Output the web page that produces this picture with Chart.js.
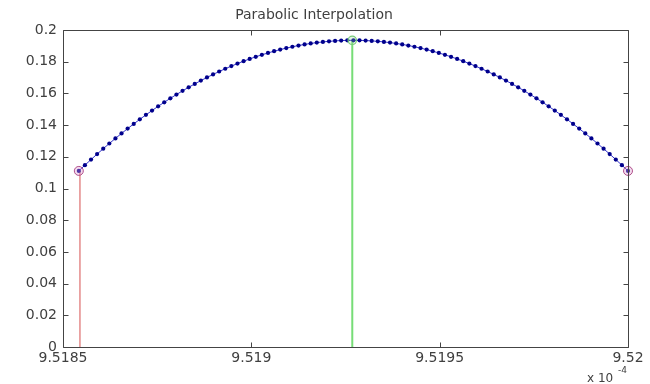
<!DOCTYPE html>
<html>
<head>
<meta charset="utf-8">
<script src="https://cdn.jsdelivr.net/npm/chart.js@4/dist/chart.umd.min.js"></script>
<style>
html,body{margin:0;padding:0;background:#fff;}
#wrap{width:650px;height:384px;}
</style>
</head>
<body>
<div id="wrap"><canvas id="c" width="650" height="384"></canvas></div>
<script>
// ---- data (x in units of 1e-4) ----
const xValues = [
9.5185420,9.5185582,9.5185744,9.5185906,9.5186068,9.5186230,9.5186392,9.5186554,9.5186716,9.5186878,
9.5187040,9.5187202,9.5187364,9.5187526,9.5187688,9.5187850,9.5188012,9.5188174,9.5188336,9.5188498,
9.5188660,9.5188822,9.5188984,9.5189146,9.5189308,9.5189470,9.5189632,9.5189794,9.5189956,9.5190118,
9.5190280,9.5190442,9.5190604,9.5190766,9.5190928,9.5191090,9.5191252,9.5191414,9.5191576,9.5191738,
9.5191900,9.5192062,9.5192224,9.5192386,9.5192548,9.5192710,9.5192872,9.5193034,9.5193196,9.5193358,
9.5193520,9.5193682,9.5193844,9.5194006,9.5194168,9.5194330,9.5194492,9.5194654,9.5194816,9.5194978,
9.5195140,9.5195302,9.5195464,9.5195626,9.5195788,9.5195950,9.5196112,9.5196274,9.5196436,9.5196598,
9.5196760,9.5196922,9.5197084,9.5197246,9.5197408,9.5197570,9.5197732,9.5197894,9.5198056,9.5198218,
9.5198380,9.5198542,9.5198704,9.5198866,9.5199028,9.5199190,9.5199352,9.5199514,9.5199676,9.5199838,
9.5200000
];
const yValues = [
0.1111,0.11472,0.11826,0.12172,0.12510,0.12839,0.13161,0.13474,0.13779,0.14076,
0.14365,0.14646,0.14919,0.15183,0.15440,0.15688,0.15928,0.16160,0.16384,0.16599,
0.16807,0.17006,0.17197,0.17381,0.17556,0.17722,0.17881,0.18032,0.18174,0.18308,
0.18434,0.18552,0.18662,0.18764,0.18858,0.18943,0.19020,0.19090,0.19151,0.19204,
0.19248,0.19285,0.19313,0.19334,0.19346,0.1935,0.19346,0.19334,0.19313,0.19285,
0.19248,0.19204,0.19151,0.19090,0.19020,0.18943,0.18858,0.18764,0.18662,0.18552,
0.18434,0.18308,0.18174,0.18032,0.17881,0.17722,0.17556,0.17381,0.17197,0.17006,
0.16807,0.16599,0.16384,0.16160,0.15928,0.15688,0.15440,0.15183,0.14919,0.14646,
0.14365,0.14076,0.13779,0.13474,0.13161,0.12839,0.12510,0.12172,0.11826,0.11472,
0.1111
];
const endpointX = [9.518542, 9.52];
const endpointY = [0.1111, 0.1111];
const peakX = 9.519268;
const peakY = 0.1935;
const redStemX = 9.518545;
const redStemTop = 0.1111;
const xTickValues = [9.5185, 9.519, 9.5195, 9.52];
const yTickValues = [0, 0.02, 0.04, 0.06, 0.08, 0.1, 0.12, 0.14, 0.16, 0.18, 0.2];
const titleText = 'Parabolic Interpolation';
const exponentBase = 'x 10';
const exponentPower = '-4';

const FONT = '"DejaVu Sans", sans-serif';
const TEXT = '#404040';
const AXIS = '#444444';

const curve = xValues.map((x, i) => ({x: x, y: yValues[i]}));
const ends = endpointX.map((x, i) => ({x: x, y: endpointY[i]}));

const boxPlugin = {
  id: 'matlabBox',
  afterDraw(chart) {
    const ctx = chart.ctx;
    const a = chart.chartArea;
    const xs = chart.scales.x, ys = chart.scales.y;
    ctx.save();
    ctx.strokeStyle = AXIS;
    ctx.lineWidth = 1;
    const L = Math.round(a.left) + 0.5, R = Math.round(a.right) + 0.5;
    const T = Math.round(a.top) + 0.5, B = Math.round(a.bottom) + 0.5;
    ctx.beginPath();
    ctx.rect(L, T, R - L, B - T);
    const tl = 5;
    yTickValues.forEach(v => {
      const p = Math.round(ys.getPixelForValue(v)) + 0.5;
      ctx.moveTo(L, p); ctx.lineTo(L + tl, p);
      ctx.moveTo(R, p); ctx.lineTo(R - tl, p);
    });
    xTickValues.forEach(v => {
      const p = Math.round(xs.getPixelForValue(v)) + 0.5;
      ctx.moveTo(p, B); ctx.lineTo(p, B - tl);
      ctx.moveTo(p, T); ctx.lineTo(p, T + tl);
    });
    ctx.stroke();
    // exponent label
    ctx.fillStyle = TEXT;
    ctx.textBaseline = 'alphabetic';
    ctx.textAlign = 'left';
    ctx.font = '12px ' + FONT;
    ctx.fillText(exponentBase, 587, 382);
    ctx.font = '9px ' + FONT;
    ctx.fillText(exponentPower, 618, 373);
    ctx.restore();
  }
};

new Chart(document.getElementById('c'), {
  type: 'scatter',
  data: {
    datasets: [
      {
        label: 'peak',
        data: [{x: peakX, y: peakY}],
        showLine: false,
        pointRadius: 4.2,
        pointBorderWidth: 1.2,
        pointBorderColor: '#77cc77',
        pointBackgroundColor: 'rgba(150,220,150,0.25)',
        clip: false
      },
      {
        label: 'ends',
        data: ends,
        showLine: false,
        pointRadius: 4.5,
        pointBorderWidth: 1,
        pointBorderColor: '#b0508a',
        pointBackgroundColor: 'rgba(220,150,210,0.35)',
        clip: false
      },
      {
        label: 'curve',
        data: curve,
        showLine: true,
        borderColor: '#3333cc',
        borderWidth: 1,
        pointRadius: 2.1,
        pointBorderWidth: 0,
        pointBackgroundColor: '#00008c',
        clip: false
      },
      {
        label: 'green',
        data: [{x: peakX, y: 0}, {x: peakX, y: peakY}],
        showLine: true,
        borderColor: '#77dd77',
        borderWidth: 2,
        pointRadius: 0
      },
      {
        label: 'red',
        data: [{x: redStemX, y: 0}, {x: redStemX, y: redStemTop}],
        showLine: true,
        borderColor: '#e07878',
        borderWidth: 1.3,
        pointRadius: 0
      }
    ]
  },
  options: {
    responsive: false,
    animation: false,
    layout: {padding: {left: 0, right: 22, top: 0, bottom: 0}},
    plugins: {
      legend: {display: false},
      tooltip: {enabled: false},
      title: {
        display: true,
        text: titleText,
        color: TEXT,
        font: {family: FONT, size: 14, weight: 'normal'},
        padding: {top: 7, bottom: 6.2}
      }
    },
    scales: {
      x: {
        type: 'linear',
        min: 9.5185,
        max: 9.52,
        grid: {display: false, drawTicks: false},
        border: {display: false},
        afterBuildTicks: s => { s.ticks = xTickValues.map(v => ({value: v})); },
        afterFit: s => { s.height = 37; },
        ticks: {
          color: TEXT,
          font: {family: FONT, size: 14},
          padding: 3,
          maxRotation: 0,
          autoSkip: false,
          callback: v => String(Number(v.toFixed(4)))
        }
      },
      y: {
        type: 'linear',
        min: 0,
        max: 0.2,
        grid: {display: false, drawTicks: false},
        border: {display: false},
        afterBuildTicks: s => { s.ticks = yTickValues.map(v => ({value: v})); },
        afterFit: s => { s.width = 63; },
        ticks: {
          color: TEXT,
          font: {family: FONT, size: 14},
          padding: 6,
          autoSkip: false,
          callback: v => String(Number(v.toFixed(2)))
        }
      }
    }
  },
  plugins: [boxPlugin]
});
</script>
</body>
</html>
